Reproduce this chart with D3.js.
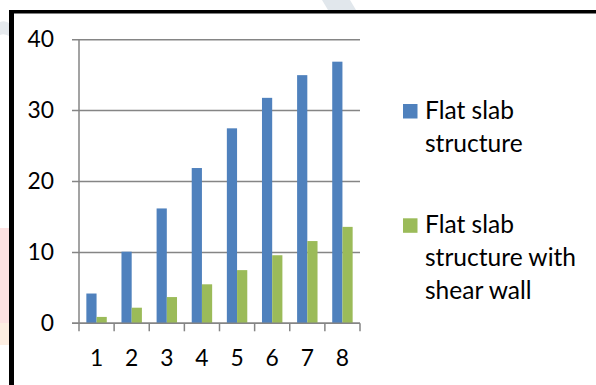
<!DOCTYPE html>
<html>
<head>
<meta charset="utf-8">
<script src="https://cdn.jsdelivr.net/npm/d3@7"></script>
<style>
  html, body { margin: 0; padding: 0; background: #fff; }
  svg { display: block; }
  text { font-family: Lato, "Open Sans", sans-serif; fill: #000; }
</style>
</head>
<body>
<svg id="chart" width="596" height="385"></svg>
<script>
const categories = ["1", "2", "3", "4", "5", "6", "7", "8"];
const seriesNames = ["Flat slab structure", "Flat slab structure with shear wall"];
const flatSlab = [4.2, 10.1, 16.2, 21.9, 27.5, 31.8, 35.0, 36.9];
const flatSlabShearWall = [0.9, 2.2, 3.7, 5.5, 7.5, 9.6, 11.6, 13.6];
const yTicks = [0, 10, 20, 30, 40];
const legendLines = [["Flat slab", "structure"], ["Flat slab", "structure with", "shear wall"]];
const colors = ["#4F81BD", "#9BBB59"];

const svg = d3.select("#chart");

// fit font sizes to the reference text widths
function fitSize(str, targetWidth) {
  const t = svg.append("text").attr("font-size", 100).text(str);
  const w = t.node().getComputedTextLength();
  t.remove();
  return 100 * targetWidth / w;
}
const tickSize = fitSize("40", 26.5);
const legendSize = (fitSize("structure with", 151) + fitSize("Flat slab", 89)) / 2;

// faint background watermark fragments outside the frame
svg.append("path").attr("d", "M322,0 L350,0 L356,10 L328,10 Z").attr("fill", "#e1e7ec");
svg.append("path").attr("d", "M0,22 Q6,20 10,24 L9,36 Q4,33 0,35 Z").attr("fill", "#e6eaee");
svg.append("rect").attr("x", 0).attr("y", 228).attr("width", 9).attr("height", 95).attr("fill", "#fde2e2");
svg.append("rect").attr("x", 0).attr("y", 323).attr("width", 9).attr("height", 22).attr("fill", "#fdeee2");

// frame (top & left only visible)
svg.append("rect").attr("x", 9).attr("y", 10).attr("width", 5).attr("height", 375).attr("fill", "#000");
svg.append("rect").attr("x", 9).attr("y", 10).attr("width", 587).attr("height", 3.5).attr("fill", "#000");

const x0 = 79, x1 = 360, yTop = 39.7, yBot = 323.3;
const x = d3.scaleBand().domain(categories).range([x0, x1]).padding(0);
const xs = d3.scaleBand().domain(seriesNames).range([0, x.bandwidth()]).paddingInner(0).paddingOuter(0.72);
const y = d3.scaleLinear().domain([0, 40]).range([yBot, yTop]);

const grid = "#858585";

// gridlines + y axis ticks
svg.append("g").selectAll("line").data(yTicks).join("line")
  .attr("x1", x0 - 7).attr("x2", x1)
  .attr("y1", d => y(d)).attr("y2", d => y(d))
  .attr("stroke", grid).attr("stroke-width", 1.5);

// y axis line
svg.append("line").attr("x1", x0).attr("x2", x0).attr("y1", yTop).attr("y2", yBot)
  .attr("stroke", grid).attr("stroke-width", 1.5);

// bars
const data = categories.map((c, i) => ({ c, vals: [flatSlab[i], flatSlabShearWall[i]] }));
const groups = svg.append("g").selectAll("g").data(data).join("g")
  .attr("transform", d => `translate(${x(d.c)},0)`);
groups.selectAll("rect").data(d => d.vals.map((v, j) => ({ v, s: seriesNames[j], j })))
  .join("rect")
  .attr("x", d => xs(d.s))
  .attr("width", xs.bandwidth())
  .attr("y", d => y(d.v))
  .attr("height", d => yBot - y(d.v))
  .attr("fill", d => colors[d.j]);

// x axis line & ticks
svg.append("line").attr("x1", x0 - 7).attr("x2", x1).attr("y1", yBot).attr("y2", yBot)
  .attr("stroke", grid).attr("stroke-width", 1.5);
const boundaries = categories.map(c => x(c)).concat([x1]);
svg.append("g").selectAll("line").data(boundaries).join("line")
  .attr("x1", d => d).attr("x2", d => d).attr("y1", yBot).attr("y2", yBot + 8)
  .attr("stroke", grid).attr("stroke-width", 1.5);

// y labels
svg.append("g").selectAll("text").data(yTicks).join("text")
  .attr("x", 54).attr("y", d => y(d) + 7.5)
  .attr("text-anchor", "end").attr("font-size", tickSize)
  .text(d => d);

// x labels
svg.append("g").selectAll("text").data(categories).join("text")
  .attr("x", d => x(d) + x.bandwidth() / 2).attr("y", 366)
  .attr("text-anchor", "middle").attr("font-size", tickSize)
  .text(d => d);

// legend
const legendTop = [104, 218.3];
const legend = svg.append("g");
seriesNames.forEach((s, i) => {
  legend.append("rect").attr("x", 403).attr("y", legendTop[i]).attr("width", 14.5).attr("height", 14.5).attr("fill", colors[i]);
  const t = legend.append("text").attr("x", 425).attr("font-size", legendSize);
  legendLines[i].forEach((ln, k) => {
    t.append("tspan").attr("x", 425).attr("y", legendTop[i] + 15 + k * 32.8).text(ln);
  });
});
</script>
</body>
</html>
